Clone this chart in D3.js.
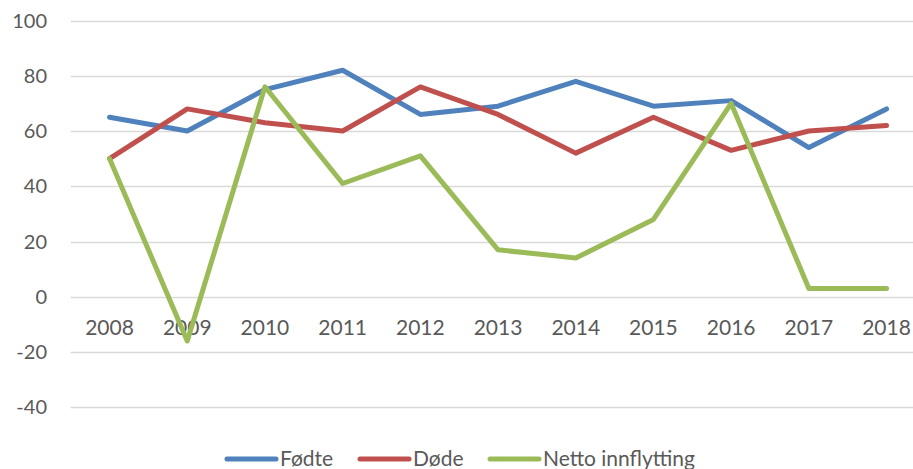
<!DOCTYPE html>
<html>
<head>
<meta charset="utf-8">
<script src="https://cdn.jsdelivr.net/npm/d3@7"></script>
<style>
  body { margin: 0; background: #fff; }
  svg { display: block; }
</style>
</head>
<body>
<svg></svg>
<script>
const WIDTH = 913;
const HEIGHT = 469;

const years = ['2008', '2009', '2010', '2011', '2012', '2013', '2014', '2015', '2016', '2017', '2018'];
const fodte = [65, 60, 75, 82, 66, 69, 78, 69, 71, 54, 68];
const dode = [50, 68, 63, 60, 76, 66, 52, 65, 53, 60, 62];
const netto = [50, -16, 76, 41, 51, 17, 14, 28, 70, 3, 3];
const yTicks = [-40, -20, 0, 20, 40, 60, 80, 100];
const seriesNames = ['Fødte', 'Døde', 'Netto innflytting'];

const colors = ['#4f81bd', '#c0504d', '#9bbb59'];
const FONT = 'Lato, "Open Sans", sans-serif';
const TEXT_COLOR = '#595959';
const FONT_SIZE = 21;

const svg = d3.select('svg')
  .attr('width', WIDTH)
  .attr('height', HEIGHT)
  .attr('font-family', FONT);

// plot runs slightly past the right edge, like the source image
const x = d3.scaleBand()
  .domain(years)
  .range([70.7, 925.4]);

const y = d3.scaleLinear()
  .domain([-40, 100])
  .range([407.3, 20.5]);

// gridlines
svg.append('g')
  .selectAll('line')
  .data(yTicks)
  .join('line')
  .attr('x1', x.range()[0])
  .attr('x2', x.range()[1])
  .attr('y1', d => Math.round(y(d)) + 0.5)
  .attr('y2', d => Math.round(y(d)) + 0.5)
  .attr('stroke', '#d9d9d9')
  .attr('stroke-width', 1.5);

// y tick labels
svg.append('g')
  .selectAll('text')
  .data(yTicks)
  .join('text')
  .attr('x', 47)
  .attr('y', d => y(d))
  .attr('dy', '0.35em')
  .attr('text-anchor', 'end')
  .attr('font-size', 20)
  .attr('fill', TEXT_COLOR)
  .text(d => d);

// x labels sit under the zero line
svg.append('g')
  .selectAll('text')
  .data(years)
  .join('text')
  .attr('x', d => x(d) + x.bandwidth() / 2)
  .attr('y', y(0) + 31)
  .attr('dy', '0.35em')
  .attr('text-anchor', 'middle')
  .attr('font-size', FONT_SIZE)
  .attr('fill', TEXT_COLOR)
  .text(d => d);

const line = d3.line()
  .x((d, i) => x(years[i]) + x.bandwidth() / 2)
  .y(d => y(d));

svg.append('g')
  .selectAll('path')
  .data([fodte, dode, netto])
  .join('path')
  .attr('d', line)
  .attr('fill', 'none')
  .attr('stroke', (d, i) => colors[i])
  .attr('stroke-width', 5)
  .attr('stroke-linejoin', 'round')
  .attr('stroke-linecap', 'round');

// legend
const legendX = [227, 360, 490];
const legendY = 459;
const legendG = svg.append('g');

const item = legendG.selectAll('g')
  .data(seriesNames)
  .join('g')
  .attr('transform', (d, i) => `translate(${legendX[i]}, ${legendY})`);

item.append('line')
  .attr('x1', 0)
  .attr('x2', 49)
  .attr('stroke', (d, i) => colors[i])
  .attr('stroke-width', 5)
  .attr('stroke-linecap', 'round');

item.append('text')
  .attr('x', 53)
  .attr('dy', '0.35em')
  .attr('font-size', FONT_SIZE)
  .attr('fill', TEXT_COLOR)
  .text(d => d);
</script>
</body>
</html>
